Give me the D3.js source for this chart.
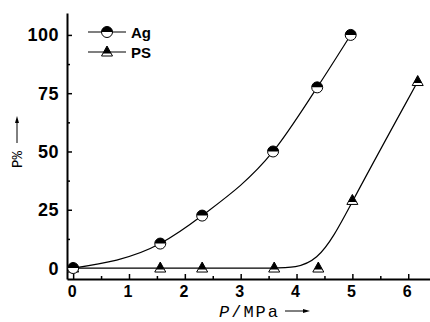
<!DOCTYPE html>
<html>
<head>
<meta charset="utf-8">
<script src="https://cdn.jsdelivr.net/npm/d3@7"></script>
<style>
  body { margin: 0; background: #fff; }
  svg { display: block; }
</style>
</head>
<body>
<div id="chart"></div>
<script>
// values
const agPressure = [0, 1.56, 2.31, 3.58, 4.37, 4.97];
const agPercent = [0, 10.5, 22.5, 50, 77.5, 100];
const psPressure = [0, 1.56, 2.31, 3.6, 4.39, 5.0, 6.17];
const psPercent = [0, 0, 0, 0, 0, 29, 80];
const xTicks = [0, 1, 2, 3, 4, 5, 6];
const yTicks = [0, 25, 50, 75, 100];

const width = 430;
const height = 322;

const svg = d3.select('#chart').append('svg')
  .attr('width', width)
  .attr('height', height);

const x = d3.scaleLinear().domain([-0.11, 6.39]).range([67, 430]);
const y = d3.scaleLinear().domain([-4.7, 109.4]).range([279, 13]);

const agData = agPressure.map((p, i) => ({ p: p, v: agPercent[i] }));
const psData = psPressure.map((p, i) => ({ p: p, v: psPercent[i] }));

const font = '"Liberation Sans", Arial, sans-serif';
const mono = '"Liberation Mono", "DejaVu Sans Mono", monospace';

// axes, ticks pointing inward
const xAxis = d3.axisTop(x).tickValues(xTicks).tickSize(5).tickFormat('').tickSizeOuter(0);
const xMinor = d3.axisTop(x).tickValues(d3.range(0.5, 6.4, 1)).tickSize(3).tickFormat('').tickSizeOuter(0);
const yAxis = d3.axisRight(y).tickValues(yTicks).tickSize(5).tickFormat('').tickSizeOuter(0);
const yMinor = d3.axisRight(y).tickValues([12.5, 37.5, 62.5, 87.5]).tickSize(3).tickFormat('').tickSizeOuter(0);

svg.append('g').attr('transform', 'translate(0,279)').call(xAxis);
svg.append('g').attr('transform', 'translate(0,279)').call(xMinor).select('.domain').remove();
svg.append('g').attr('transform', 'translate(67,0)').call(yAxis);
svg.append('g').attr('transform', 'translate(67,0)').call(yMinor).select('.domain').remove();

svg.selectAll('.domain').attr('stroke', '#000').attr('stroke-width', 2);
svg.selectAll('.tick line').attr('stroke', '#000').attr('stroke-width', 1.5);

// tick labels
svg.append('g').selectAll('text')
  .data(xTicks)
  .enter().append('text')
  .attr('x', d => x(d) - 1)
  .attr('y', 297)
  .attr('text-anchor', 'middle')
  .style('font-family', font)
  .style('font-weight', 'bold')
  .style('font-size', '16px')
  .text(d => d);

svg.append('g').selectAll('text')
  .data(yTicks)
  .enter().append('text')
  .attr('x', 59)
  .attr('y', d => y(d) + 6.5)
  .attr('text-anchor', 'end')
  .style('font-family', font)
  .style('font-weight', 'bold')
  .style('font-size', '18px')
  .style('letter-spacing', '0.5px')
  .text(d => d);

// curves
svg.append('path')
  .datum(agData)
  .attr('fill', 'none')
  .attr('stroke', '#000')
  .attr('stroke-width', 1.2)
  .attr('d', d3.line().x(d => x(d.p)).y(d => y(d.v)).curve(d3.curveMonotoneX));

svg.append('path')
  .datum(psData)
  .attr('fill', 'none')
  .attr('stroke', '#000')
  .attr('stroke-width', 1.2)
  .attr('d', d3.line().x(d => x(d.p)).y(d => y(d.v)).curve(d3.curveBasis));

// markers: half-filled circle and half-filled triangle
function drawCircle(g, cx, cy) {
  const r = 5.5;
  g.append('circle').attr('cx', cx).attr('cy', cy).attr('r', r)
    .attr('fill', '#fff').attr('stroke', '#000').attr('stroke-width', 1);
  g.append('path')
    .attr('d', `M${cx - r},${cy} A${r},${r} 0 0 1 ${cx + r},${cy} Z`)
    .attr('fill', '#000');
}

function drawTriangle(g, cx, cy) {
  const h = 10, w = 11;
  const top = cy - h * 0.6, bottom = cy + h * 0.4;
  g.append('path')
    .attr('d', `M${cx},${top} L${cx + w / 2},${bottom} L${cx - w / 2},${bottom} Z`)
    .attr('fill', '#fff').attr('stroke', '#000').attr('stroke-width', 1);
  const mid = cy + 1.5;
  const halfW = (w / 2) * (mid - top) / h;
  g.append('path')
    .attr('d', `M${cx},${top} L${cx + halfW},${mid} L${cx - halfW},${mid} Z`)
    .attr('fill', '#000');
}

const markers = svg.append('g');
psData.forEach(d => drawTriangle(markers, x(d.p), y(d.v)));
agData.forEach(d => drawCircle(markers, x(d.p), y(d.v)));

// legend
const legendItems = [
  { label: 'Ag', y: 32, mark: drawCircle },
  { label: 'PS', y: 52, mark: drawTriangle }
];
const legend = svg.append('g');
legendItems.forEach(item => {
  legend.append('line')
    .attr('x1', 88).attr('x2', 126)
    .attr('y1', item.y).attr('y2', item.y)
    .attr('stroke', '#000').attr('stroke-width', 1.2);
  item.mark(legend, 107, item.y);
  legend.append('text')
    .attr('x', 131)
    .attr('y', item.y + 5.5)
    .style('font-family', font)
    .style('font-weight', 'bold')
    .style('font-size', '15px')
    .text(item.label);
});

// axis titles with arrows
svg.append('text')
  .attr('transform', 'translate(22,168) rotate(-90)')
  .attr('text-anchor', 'start')
  .style('font-family', mono)
  .style('font-size', '14px')
  .text('P%');

svg.append('line')
  .attr('x1', 17).attr('x2', 17)
  .attr('y1', 143).attr('y2', 121)
  .attr('stroke', '#000').attr('stroke-width', 1);
svg.append('path')
  .attr('d', 'M17,116 L15,123 L19,123 Z')
  .attr('fill', '#000');

svg.append('text')
  .attr('x', 219)
  .attr('y', 316.5)
  .style('font-family', mono)
  .style('font-size', '17px')
  .style('letter-spacing', '2px')
  .html('<tspan font-style="italic">P</tspan>/MPa');

svg.append('line')
  .attr('x1', 285).attr('x2', 305)
  .attr('y1', 311).attr('y2', 311)
  .attr('stroke', '#000').attr('stroke-width', 1);
svg.append('path')
  .attr('d', 'M310,311 L303,309 L303,313 Z')
  .attr('fill', '#000');
</script>
</body>
</html>
